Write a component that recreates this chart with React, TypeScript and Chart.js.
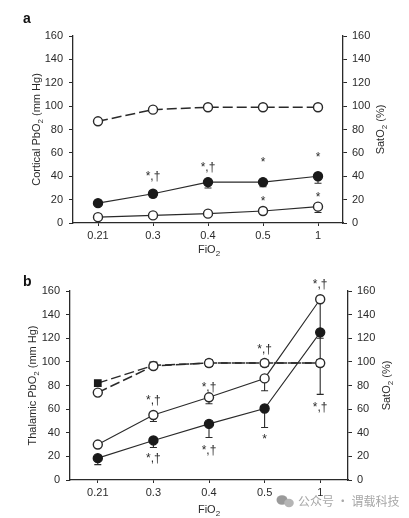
import React, { useEffect, useRef } from 'react';
import { Chart, registerables } from 'chart.js';
Chart.register(...registerables);

const FONT = '"Liberation Sans", Arial, sans-serif';
const INK = '#2a2a2a';

const categories = ['0.21', '0.3', '0.4', '0.5', '1'];

// Panel a (cortical)
const satA = [87, 97, 99, 99, 99];
const cortFilled = [17, 25, 35, 35, 40];
const cortFilledLow = [15, 22, 30, 31, 34];
const cortOpen = [5, 6.5, 8, 10.3, 14];
const cortOpenLow = [4, 5.5, 7, 8.5, 9];
const annotA = [
  { i: 1, y: 40, t: '*,†' },
  { i: 2, y: 47, t: '*,†' },
  { i: 3, y: 52, t: '*' },
  { i: 4, y: 56, t: '*' },
  { i: 3, y: 18, t: '*' },
  { i: 4, y: 22, t: '*' },
];

// Panel b (thalamic)
const satBSquare = [82, 97, 99, 99, 99];
const satBOpen = [74, 96.5, 99, 99, 99];
const thalOpen = [30, 55, 70, 86, 153];
const thalOpenLow = [28, 49.5, 64.5, 75.5, 120];
const thalFilled = [18.5, 33.5, 47.5, 60.5, 125];
const thalFilledLow = [13, 27.5, 36, 44.5, 72.5];
const annotB = [
  { i: 4, y: 165, t: '*,†' },
  { i: 3, y: 110, t: '*,†' },
  { i: 2, y: 78, t: '*,†' },
  { i: 1, y: 67, t: '*,†' },
  { i: 1, y: 18, t: '*,†' },
  { i: 2, y: 24.5, t: '*,†' },
  { i: 3, y: 34, t: '*' },
  { i: 4, y: 61.5, t: '*,†' },
];

type Part = [string, boolean];

function drawRich(ctx: CanvasRenderingContext2D, parts: Part[], x: number, y: number, rot: number, size: number, color: string) {
  ctx.save();
  ctx.translate(x, y);
  ctx.rotate(rot);
  const fMain = `${size}px ${FONT}`;
  const fSub = `${Math.round(size * 0.72)}px ${FONT}`;
  let total = 0;
  for (const [t, sub] of parts) {
    ctx.font = sub ? fSub : fMain;
    total += ctx.measureText(t).width;
  }
  let cx = -total / 2;
  ctx.textBaseline = 'middle';
  ctx.textAlign = 'left';
  ctx.fillStyle = color;
  for (const [t, sub] of parts) {
    ctx.font = sub ? fSub : fMain;
    ctx.fillText(t, cx, sub ? size * 0.32 : 0);
    cx += ctx.measureText(t).width;
  }
  ctx.restore();
}

const pts = (arr: number[]) => arr.map((y, i) => ({ x: i, y }));

const solidSeries = (data: number[], filled: boolean) => ({
  data: pts(data),
  yAxisID: 'y',
  borderColor: INK,
  borderWidth: 1.1,
  pointRadius: 4.5,
  pointHoverRadius: 4.5,
  pointBackgroundColor: filled ? '#1a1a1a' : '#ffffff',
  pointBorderColor: filled ? '#1a1a1a' : INK,
  pointBorderWidth: 1.4,
  clip: false as any,
});

const dashSeries = (data: number[], style: string, filled: boolean) => ({
  data: pts(data),
  yAxisID: 'y2',
  borderColor: INK,
  borderWidth: 1.5,
  borderDash: [10, 4],
  pointStyle: style,
  pointRadius: style === 'rect' ? 4.5 : 4.5,
  pointHoverRadius: 4.5,
  pointBackgroundColor: filled ? '#1a1a1a' : '#ffffff',
  pointBorderColor: filled ? '#1a1a1a' : INK,
  pointBorderWidth: 1.4,
  clip: false as any,
});

interface PanelCfg {
  height: number;
  padTop: number;
  leftW: number;
  rightW: number;
  xH: number;
  xMin: number;
  xMax: number;
  xTick: number;
  datasets: any[];
  errors: { vals: number[]; lows: number[] }[];
  annots: { i: number; y: number; t: string }[];
  yTitle: Part[];
  yTitleX: number;
  y2TitleX: number;
  xTitleY: number;
  label: string;
  labelY: number;
  watermark?: boolean;
}

function makeConfig(p: PanelCfg): any {
  const plugin = {
    id: 'extras',
    beforeDatasetsDraw(chart: any) {
      const ctx = chart.ctx as CanvasRenderingContext2D;
      const xs = chart.scales.x;
      const ys = chart.scales.y;
      ctx.save();
      ctx.strokeStyle = INK;
      ctx.lineWidth = 1.1;
      for (const e of p.errors) {
        e.vals.forEach((v, i) => {
          const px = xs.getPixelForValue(i);
          const y0 = ys.getPixelForValue(v);
          const y1 = ys.getPixelForValue(e.lows[i]);
          ctx.beginPath();
          ctx.moveTo(px, y0);
          ctx.lineTo(px, y1);
          ctx.moveTo(px - 3.5, y1);
          ctx.lineTo(px + 3.5, y1);
          ctx.stroke();
        });
      }
      ctx.restore();
    },
    afterDraw(chart: any) {
      const ctx = chart.ctx as CanvasRenderingContext2D;
      const xs = chart.scales.x;
      const ys = chart.scales.y;
      const area = chart.chartArea;
      ctx.save();
      ctx.fillStyle = INK;
      ctx.font = `12px ${FONT}`;
      ctx.textAlign = 'center';
      ctx.textBaseline = 'middle';
      for (const a of p.annots) {
        ctx.fillText(a.t, xs.getPixelForValue(a.i), ys.getPixelForValue(a.y));
      }
      ctx.font = `bold 14px ${FONT}`;
      ctx.textAlign = 'left';
      ctx.fillStyle = '#111';
      ctx.fillText(p.label, 23, p.labelY);
      ctx.restore();
      const midY = (area.top + area.bottom) / 2;
      drawRich(ctx, p.yTitle, p.yTitleX, midY, -Math.PI / 2, 11, INK);
      drawRich(ctx, [['SatO', false], ['2', true], [' (%)', false]], p.y2TitleX, midY, -Math.PI / 2, 11, INK);
      drawRich(ctx, [['FiO', false], ['2', true]], 209, p.xTitleY, 0, 11, INK);
      if (p.watermark) {
        ctx.save();
        ctx.fillStyle = '#9a9a9a';
        ctx.beginPath();
        ctx.ellipse(282, 238, 5.5, 4.8, 0, 0, Math.PI * 2);
        ctx.fill();
        ctx.fillStyle = '#b5b5b5';
        ctx.beginPath();
        ctx.ellipse(289, 241, 4.8, 4.2, 0, 0, Math.PI * 2);
        ctx.fill();
        ctx.fillStyle = '#a8a8a8';
        ctx.font = `12px "Noto Sans CJK SC", sans-serif`;
        ctx.textAlign = 'left';
        ctx.textBaseline = 'middle';
        ctx.fillText('公众号 · 谓载科技', 298, 239);
        ctx.restore();
      }
    },
  };

  const yCommon = {
    min: 0,
    max: 160,
    ticks: { stepSize: 20, color: INK, font: { size: 11, family: FONT } },
    grid: { drawOnChartArea: false, tickLength: 4, color: INK, lineWidth: 1 },
    border: { display: true, color: INK, width: 1.3 },
  };

  return {
    type: 'line',
    data: { datasets: p.datasets },
    options: {
      animation: false,
      responsive: false,
      maintainAspectRatio: false,
      events: [],
      layout: { padding: { top: p.padTop, left: 0, right: 0, bottom: 0 } },
      plugins: { legend: { display: false }, tooltip: { enabled: false }, title: { display: false } },
      scales: {
        x: {
          type: 'linear',
          min: p.xMin,
          max: p.xMax,
          afterBuildTicks: (s: any) => {
            s.ticks = categories.map((_, i) => ({ value: i }));
          },
          afterFit: (s: any) => {
            s.height = p.xH;
          },
          ticks: {
            color: INK,
            font: { size: 11, family: FONT },
            padding: 3,
            maxRotation: 0,
            autoSkip: false,
            callback: (v: any) => categories[v] ?? '',
          },
          grid: { drawOnChartArea: false, tickLength: p.xTick, color: INK, lineWidth: 1 },
          border: { display: true, color: INK, width: 1.3 },
        },
        y: {
          ...yCommon,
          position: 'left',
          ticks: { ...yCommon.ticks, padding: 6 },
          afterFit: (s: any) => {
            s.width = p.leftW;
          },
        },
        y2: {
          ...yCommon,
          position: 'right',
          ticks: { ...yCommon.ticks, padding: 5 },
          afterFit: (s: any) => {
            s.width = p.rightW;
          },
        },
      },
    },
    plugins: [plugin],
  };
}

const panelA: PanelCfg = {
  height: 262,
  padTop: 36,
  leftW: 73,
  rightW: 66,
  xH: 39,
  xMin: -25 / 55,
  xMax: 4 + 25 / 55,
  xTick: 3,
  datasets: [
    dashSeries(satA, 'circle', false),
    solidSeries(cortFilled, true),
    solidSeries(cortOpen, false),
  ],
  errors: [
    { vals: cortFilled, lows: cortFilledLow },
    { vals: cortOpen, lows: cortOpenLow },
  ],
  annots: annotA,
  yTitle: [['Cortical PbO', false], ['2', true], [' (mm Hg)', false]],
  yTitleX: 37,
  y2TitleX: 381,
  xTitleY: 250,
  label: 'a',
  labelY: 19,
};

const panelB: PanelCfg = {
  height: 256,
  padTop: 29,
  leftW: 70,
  rightW: 61,
  xH: 38,
  xMin: -0.5,
  xMax: 4.5,
  xTick: 3,
  datasets: [
    dashSeries(satBOpen, 'circle', false),
    dashSeries(satBSquare, 'rect', true),
    solidSeries(thalOpen, false),
    solidSeries(thalFilled, true),
  ],
  errors: [
    { vals: thalOpen, lows: thalOpenLow },
    { vals: thalFilled, lows: thalFilledLow },
  ],
  annots: annotB,
  yTitle: [['Thalamic PbO', false], ['2', true], [' (mm Hg)', false]],
  yTitleX: 33,
  y2TitleX: 387,
  xTitleY: 248,
  label: 'b',
  labelY: 20,
  watermark: true,
};

function Panel({ cfg, top }: { cfg: PanelCfg; top: number }) {
  const ref = useRef<HTMLCanvasElement>(null);
  useEffect(() => {
    if (!ref.current) return;
    const chart = new Chart(ref.current, makeConfig(cfg));
    return () => chart.destroy();
  }, [cfg]);
  return (
    <canvas
      ref={ref}
      width={409}
      height={cfg.height}
      style={{ position: 'absolute', left: 0, top, width: 409, height: cfg.height }}
    />
  );
}

export default function App() {
  return (
    <div style={{ position: 'absolute', left: 0, top: 0, width: 409, height: 518, background: '#fff' }}>
      <Panel cfg={panelA} top={0} />
      <Panel cfg={panelB} top={262} />
    </div>
  );
}
